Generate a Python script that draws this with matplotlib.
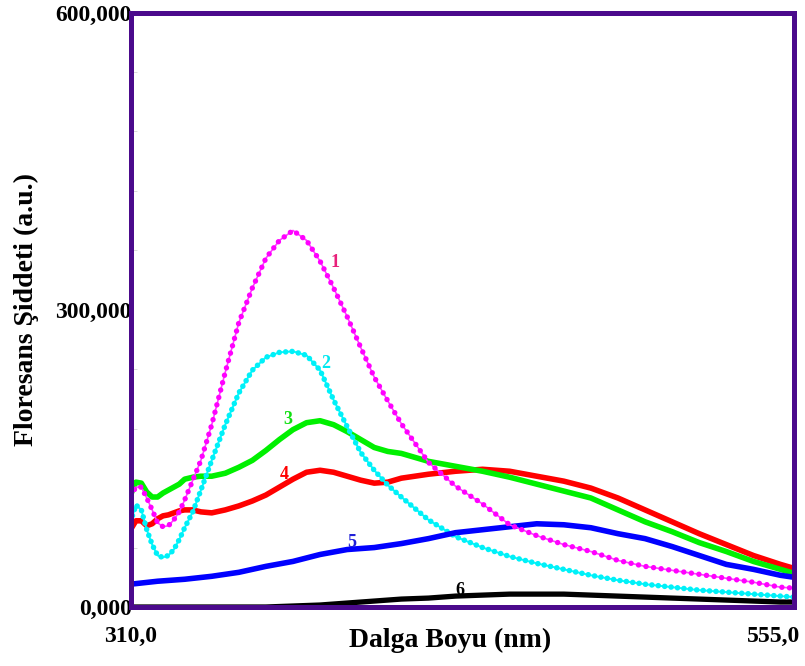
import matplotlib
matplotlib.use("Agg")
import matplotlib.pyplot as plt
from matplotlib.ticker import FixedLocator, MultipleLocator
import matplotlib.transforms as mtransforms
import numpy as np

# Wavelength grid (nm) for the dense spectra 1-4
wavelength = [310, 312, 314, 316, 318, 320, 322, 324, 326, 328, 330,
              333, 336,
              340, 345, 350, 355, 360, 365, 370, 375, 380, 385, 390, 395, 400, 405, 410,
              420, 430, 440, 450, 460, 470, 480, 490, 500, 510, 520, 530, 540, 550,
              555]

# Fluorescence intensities in thousands of a.u.
spec1_k = [112, 121, 121, 110, 98, 85, 81, 82, 88, 96, 108,
           128, 148,
           184, 237, 287, 322, 352, 370, 380, 370, 349, 322, 293, 262, 232, 208, 185,
           146, 122, 104, 83, 72, 63, 56, 47, 41, 37, 33, 29, 25, 20,
           19]
spec2_k = [86, 103, 98, 78, 63, 52, 50, 52, 58, 68, 80,
           96, 118,
           148, 184, 216, 239, 252, 257, 258, 254, 239, 209, 182, 156, 138, 123, 111,
           88, 71, 60, 51, 44, 38, 32, 27, 23, 20, 17, 15, 13, 11,
           10]
spec3_k = [113, 126, 125, 116, 111, 111, 115, 118, 121, 124, 129,
           131, 132,
           132, 135, 141, 148, 158, 169, 179, 186, 188, 184, 177, 169, 161, 157, 155,
           147, 142, 137, 131, 124, 117, 110, 98, 86, 76, 65, 56, 46, 38,
           34]
spec4_k = [78, 87, 87, 82, 84, 89, 92, 93, 95, 97, 98,
           98, 96,
           95, 98, 102, 107, 113, 121, 129, 136, 138, 136, 132, 128, 125, 126, 130,
           134, 137, 139, 137, 132, 127, 120, 110, 98, 86, 74, 63, 52, 43,
           39]

# Coarser grid for the smoother spectra 5 and 6
wavelength_coarse = [310, 320, 330, 340, 350, 360, 370, 380, 390, 400, 410, 420, 430,
                     440, 450, 460, 470, 480, 490, 500, 510, 520, 530, 540, 550, 555]
spec5_k = [23, 26, 28, 31, 35, 41, 46, 53, 58, 60, 64, 69, 75,
           78, 81, 84, 83, 80, 74, 69, 61, 52, 43, 38, 32, 30]
spec6_k = [0, 0, 0, 0, 0, 0, 1, 2, 4, 6, 8, 9, 11,
           12, 13, 13, 13, 12, 11, 10, 9, 8, 7, 6, 5, 5]

curve_labels = ["1", "2", "3", "4", "5", "6"]
label_wavelength = [385.5, 382.2, 368.1, 366.6, 391.8, 431.7]
label_value_k = [348, 246, 189, 134, 65, 17]

x_ticks = [310, 555]
x_tick_labels = ["310,0", "555,0"]
y_ticks = [0, 300000, 600000]
y_tick_labels = ["0,000", "300,000", "600,000"]

plt.rcParams["font.family"] = ["Liberation Serif", "DejaVu Serif"]
plt.rcParams["font.weight"] = "bold"

FRAME = "#4B0A8C"

fig = plt.figure(figsize=(8.05, 6.66), dpi=100)
ax = fig.add_axes([130.5 / 805, 1 - 607 / 666, (794 - 130.5) / 805, (607 - 12.5) / 666])

wl = np.array(wavelength)
wlc = np.array(wavelength_coarse)
k = 1000.0

ax.plot(wlc, np.array(spec6_k) * k, color="black", lw=3.8, solid_capstyle="butt", zorder=2)
ax.plot(wl, np.array(spec4_k) * k, color="#FF0000", lw=4.0, zorder=3)
ax.plot(wl, np.array(spec3_k) * k, color="#00F000", lw=4.0, zorder=3)

# spectrum 2: dotted trace over a thin connecting line
ax.plot(wl, np.array(spec2_k) * k, color="#00FFFF", lw=1.4, zorder=4)
ax.plot(wl, np.array(spec2_k) * k, color="#00F0F8", lw=4.0,
        linestyle=(0, (0.01, 1.15)), dash_capstyle="round", zorder=4)

ax.plot(wlc, np.array(spec5_k) * k, color="#0000FF", lw=4.0, zorder=5)

# spectrum 1: dotted trace over a thin connecting line
ax.plot(wl, np.array(spec1_k) * k, color="#FF40FF", lw=1.2, zorder=6)
ax.plot(wl, np.array(spec1_k) * k, color="#FF00FF", lw=3.9,
        linestyle=(0, (0.01, 1.4)), dash_capstyle="round", zorder=6)

label_colors = ["#E8207A", "#00E8F0", "#10E010", "#FF0000", "#2020D8", "black"]
for lab, xw, yv, c in zip(curve_labels, label_wavelength, label_value_k, label_colors):
    ax.text(xw, yv * k, lab, color=c, fontsize=13, fontweight="bold",
            ha="center", va="center", zorder=7)

ax.set_xlim(310, 555)
ax.set_ylim(0, 600000)

for sp in ax.spines.values():
    sp.set_color(FRAME)
    sp.set_linewidth(3.6)
    sp.set_zorder(8)

ax.xaxis.set_major_locator(FixedLocator(x_ticks))
ax.set_xticklabels(x_tick_labels)
ax.yaxis.set_major_locator(FixedLocator(y_ticks))
ax.set_yticklabels(y_tick_labels)
ax.yaxis.set_minor_locator(MultipleLocator(60000))

ax.tick_params(axis="both", which="major", length=0, labelsize=17)
ax.tick_params(axis="x", which="major", pad=14)
ax.tick_params(axis="y", which="major", pad=-1)
ax.tick_params(axis="y", which="minor", direction="in", length=4, width=0.7,
               color="#dadada")

# keep the right-hand wavelength label inside the figure
xl = ax.get_xticklabels()
xl[1].set_horizontalalignment("right")
xl[1].set_transform(xl[1].get_transform() +
                    mtransforms.ScaledTranslation(6 / 100, 0, fig.dpi_scale_trans))

ax.set_xlabel("Dalga Boyu (nm)", fontsize=20, fontweight="bold")
ax.set_ylabel("Floresans Şiddeti (a.u.)", fontsize=20, fontweight="bold")
ax.xaxis.set_label_coords((450 - 130.5) / 663.5, (607 - 640) / 594.5)
ax.xaxis.label.set_verticalalignment("center")
ax.yaxis.set_label_coords((26 - 130.5) / 663.5, 0.5)
ax.yaxis.label.set_verticalalignment("center")

fig.savefig("out.png", dpi=100)
